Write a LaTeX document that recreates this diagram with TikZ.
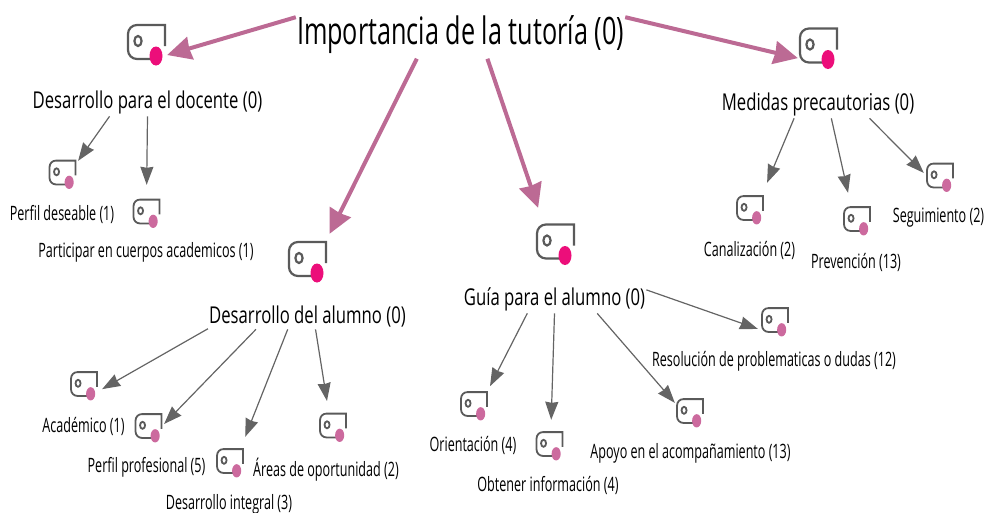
\documentclass[tikz,border=0pt]{standalone}
\usepackage{fontspec}
\setmainfont[FakeStretch=0.72]{Open Sans}
\newfontfamily\rootfont[FakeStretch=0.667]{Open Sans}
\newfontfamily\leaffont[FakeStretch=0.635]{Open Sans}
\usetikzlibrary{arrows.meta}
\definecolor{linkpink}{HTML}{BC6A94}
\definecolor{linkgrey}{HTML}{646464}
\definecolor{iconline}{HTML}{5A5A5A}
\definecolor{dothot}{HTML}{EC0E7A}
\definecolor{dotsoft}{HTML}{CC6A9E}
\newcommand{\filecode}[3]{%
  \begin{scope}[x=#1pt,y=-#1pt]
    \draw[iconline,line width=#3pt] (18.5,4) -- (18.5,-17) -- (6,-17) [rounded corners=#1*9pt] -- (-18.5,-17) -- (-18.5,17) -- (6,17);
    \draw[iconline,line width=#3pt] (-8.5,-1) ellipse (3.6 and 5);
    \fill[#2] (9.5,14) ellipse (6.5 and 9.5);
  \end{scope}}
\tikzset{bigpic/.pic={\filecode{1}{dothot}{2.2}},smallpic/.pic={\filecode{0.7}{dotsoft}{1.8}}}
\begin{document}
\begin{tikzpicture}[x=1pt,y=-1pt,
    topic/.style={inner xsep=1pt,inner ysep=2pt,font=\fontsize{23.2}{26}\selectfont},
    leaf/.style={inner sep=1pt,font=\leaffont\fontsize{19.8}{22}\selectfont},
    mainlink/.style={->,linkpink,line width=4pt,>={Stealth[length=24pt,width=23pt,inset=1pt]}},
    sublink/.style={->,linkgrey,line width=1.2pt,>={Stealth[length=18pt,width=13pt,inset=1pt]}},
    bigcode/.style={minimum width=37pt,minimum height=35pt,inner sep=0pt,append after command={(\tikzlastnode.center) pic {bigpic}}},
    smallcode/.style={minimum width=26pt,minimum height=25pt,inner sep=0pt,append after command={(\tikzlastnode.center) pic {smallpic}}}]
    \useasboundingbox (0,0) rectangle (985,512);
    \node[inner xsep=1pt,inner ysep=5pt,font=\rootfont\fontsize{37.8}{40}\selectfont] (root) at (460.5,34.5) {Importancia de la tutoría (0)};

    \node[bigcode] (c1) at (146.5,42) {};
    \node[bigcode] (c2) at (307.5,259) {};
    \node[bigcode] (c3) at (555.5,241.5) {};
    \node[bigcode] (c4) at (818.5,45.5) {};
    \node[topic] (docente) at (147.5,102.5) {Desarrollo para el docente (0)};
    \node[topic] (alumno) at (307.5,316.5) {Desarrollo del alumno (0)};
    \node[topic] (guia) at (554.5,299.5) {Guía para el alumno (0)};
    \node[topic] (medidas) at (818,104.5) {Medidas precautorias (0)};

    \node[smallcode] (c11) at (62.5,172.5) {};
    \node[smallcode] (c12) at (146.5,211.5) {};
    \node[smallcode] (c21) at (84,384) {};
    \node[smallcode] (c22) at (148.5,426) {};
    \node[smallcode] (c23) at (230,461) {};
    \node[smallcode] (c24) at (333,425.5) {};
    \node[smallcode] (c31) at (474,404) {};
    \node[smallcode] (c32) at (549.5,444) {};
    \node[smallcode] (c33) at (690,411) {};
    \node[smallcode] (c34) at (775,320) {};
    \node[smallcode] (c41) at (750,208) {};
    \node[smallcode] (c42) at (857,219) {};
    \node[smallcode] (c43) at (940,175.5) {};

    \node[leaf] (perfil) at (62,214) {Perfil deseable (1)};
    \node[leaf] (cuerpos) at (146,252) {Participar en cuerpos academicos (1)};
    \node[leaf] (academico) at (83.5,426) {Académico (1)};
    \node[leaf] (profesional) at (146.5,467) {Perfil profesional (5)};
    \node[leaf] (integral) at (229,504) {Desarrollo integral (3)};
    \node[leaf] (areas) at (326,470) {Áreas de oportunidad (2)};
    \node[leaf] (orientacion) at (473,445) {Orientación (4)};
    \node[leaf] (obtener) at (548,485) {Obtener información (4)};
    \node[leaf] (apoyo) at (690.5,453) {Apoyo en el acompañamiento (13)};
    \node[leaf] (dudas) at (774,361) {Resolución de problematicas o dudas (12)};
    \node[leaf] (canal) at (749.5,250) {Canalización (2)};
    \node[leaf] (prevencion) at (856,262) {Prevención (13)};
    \node[leaf] (seguimiento) at (938.5,218) {Seguimiento (2)};

    \path (root.174.2) edge[mainlink,shorten >=2pt] (c1.324)
          (root.209) edge[mainlink,shorten >=8.4pt] (c2.44.7)
          (root.318.4) edge[mainlink,shorten >=16.9pt] (c3.124.7)
          (root.6.7) edge[mainlink,shorten >=2pt] (c4.215);
    \path (docente.200.8) edge[sublink,shorten >=4.2pt] (c11.32)
          (docente.270) edge[sublink,shorten >=14pt] (c12.90)
          (alumno.187.9) edge[sublink,shorten >=5.7pt] (c21.329)
          (alumno.194.4) edge[sublink,shorten >=3.5pt] (c22.358)
          (alumno.213.4) edge[sublink,shorten >=12.4pt] (c23.50)
          (alumno.302.2) edge[sublink,shorten >=12pt] (c24.108.2)
          (guia.207) edge[sublink,shorten >=6.2pt] (c31.43.7)
          (guia.270) edge[sublink,shorten >=11.5pt] (c32.84)
          (guia.342.8) edge[sublink,shorten >=3pt] (c33.156.3)
          (guia.6) edge[sublink,shorten >=4.2pt] (c34.218.7)
          (medidas.210.4) edge[sublink,shorten >=13.6pt] (c41.47)
          (medidas.314) edge[sublink,shorten >=13.8pt] (c42.115.6)
          (medidas.345.5) edge[sublink,shorten >=4.3pt] (c43.182);
\end{tikzpicture}
\end{document}
